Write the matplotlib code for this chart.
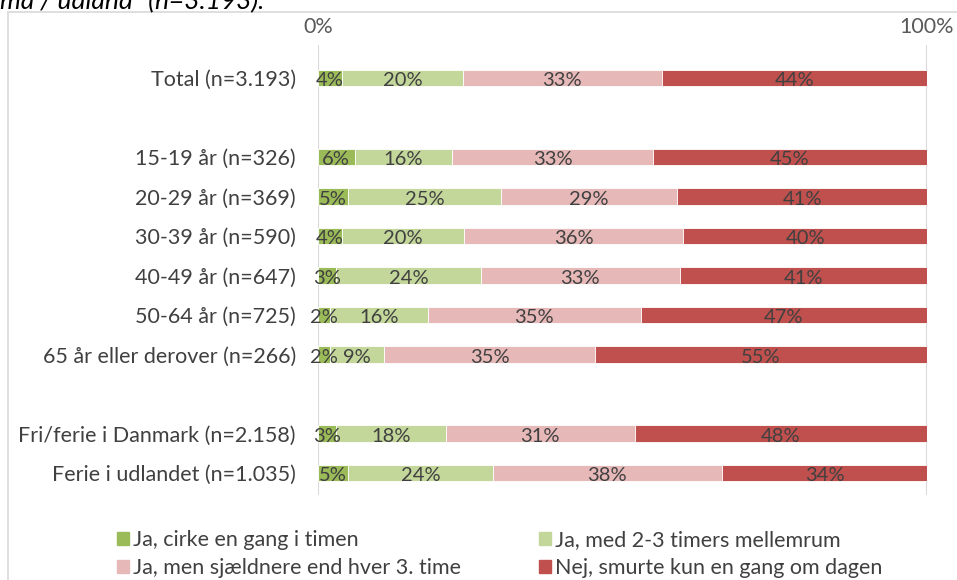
import numpy as np
import matplotlib.pyplot as plt
from matplotlib.patches import Rectangle, Patch

plt.rcParams['font.family'] = ['Lato', 'DejaVu Sans']

# ---------------------------------------------------
# Data
# ---------------------------------------------------
groups = ["Total (n=3.193)", "",
          "15-19 år (n=326)", "20-29 år (n=369)", "30-39 år (n=590)",
          "40-49 år (n=647)", "50-64 år (n=725)", "65 år eller derover (n=266)", "",
          "Fri/ferie i Danmark (n=2.158)", "Ferie i udlandet (n=1.035)"]

cirka_timen = [4, None, 6, 5, 4, 3, 2, 2, None, 3, 5]
timers_2_3 = [20, None, 16, 25, 20, 24, 16, 9, None, 18, 24]
sjaeldnere = [33, None, 33, 29, 36, 33, 35, 35, None, 31, 38]
kun_en_gang = [44, None, 45, 41, 40, 41, 47, 55, None, 48, 34]

series_names = ["Ja, cirke en gang i timen", "Ja, med 2-3 timers mellemrum",
                "Ja, men sjældnere end hver 3. time", "Nej, smurte kun en gang om dagen"]
colors = ["#9BBB59", "#C4D79B", "#E6B9B8", "#C0504D"]

# ---------------------------------------------------
# Plot
# ---------------------------------------------------
fig = plt.figure(figsize=(9.57, 5.8), dpi=100)
W, H = 957, 580
ax = fig.add_axes([318 / W, 1 - 495 / H, (927 - 318) / W, (495 - 45) / H])

# chart frame
fig.patches.append(Rectangle((8 / W, -0.1), 1.2, 1 - 12 / H + 0.1, transform=fig.transFigure,
                             fill=False, edgecolor="#D9D9D9", linewidth=1.2))

series = [cirka_timen, timers_2_3, sjaeldnere, kun_en_gang]
ypos = np.arange(len(groups))
for i in range(len(groups)):
    if series[0][i] is None:
        continue
    vals = [s[i] for s in series]
    total = sum(vals)
    left = 0
    for v, c in zip(vals, colors):
        w = v / total * 100
        ax.barh(ypos[i], w, left=left, height=0.41, color=c, edgecolor="white", linewidth=0.6)
        ax.text(left + w / 2, ypos[i] + 0.07, f"{v}%", ha="center", va="center",
                fontsize=14.5, color="#404040")
        left += w

ax.set_xlim(0, 100)
ax.set_ylim(10.56, -0.84)
ax.set_yticks([p for p, g in zip(ypos, groups) if g])
ax.set_yticklabels([g for g in groups if g], fontsize=15.5, color="#404040")
ax.xaxis.tick_top()
ax.set_xticks([0, 100])
ax.set_xticklabels(["0%", "100%"], fontsize=15.5, color="#595959")
ax.tick_params(length=0)
ax.tick_params(axis="y", pad=16)
ax.tick_params(axis="x", pad=6)
for s in ax.spines.values():
    s.set_visible(False)
for x in [0, 100]:
    ax.axvline(x, color="#D9D9D9", linewidth=1.5, zorder=0)

handles = [Patch(color=c) for c in colors]
order = [0, 2, 1, 3]
fig.legend([handles[k] for k in order], [series_names[k] for k in order], ncol=2,
           loc="upper left", bbox_to_anchor=(102 / W, 1 - 515 / H), frameon=False,
           fontsize=15.5, handlelength=0.55, handleheight=0.55, handletextpad=0.2,
           columnspacing=3.6, labelspacing=0.37, labelcolor="#404040",
           borderpad=0.2)

# title at the top, cut off by the figure edge as in the original
fig.text(0, 1 - 9 / H, 'ma / udland" (n=3.193).', fontsize=19, style="italic",
         color="black", ha="left", va="baseline")

fig.savefig("out.png", dpi=100)
